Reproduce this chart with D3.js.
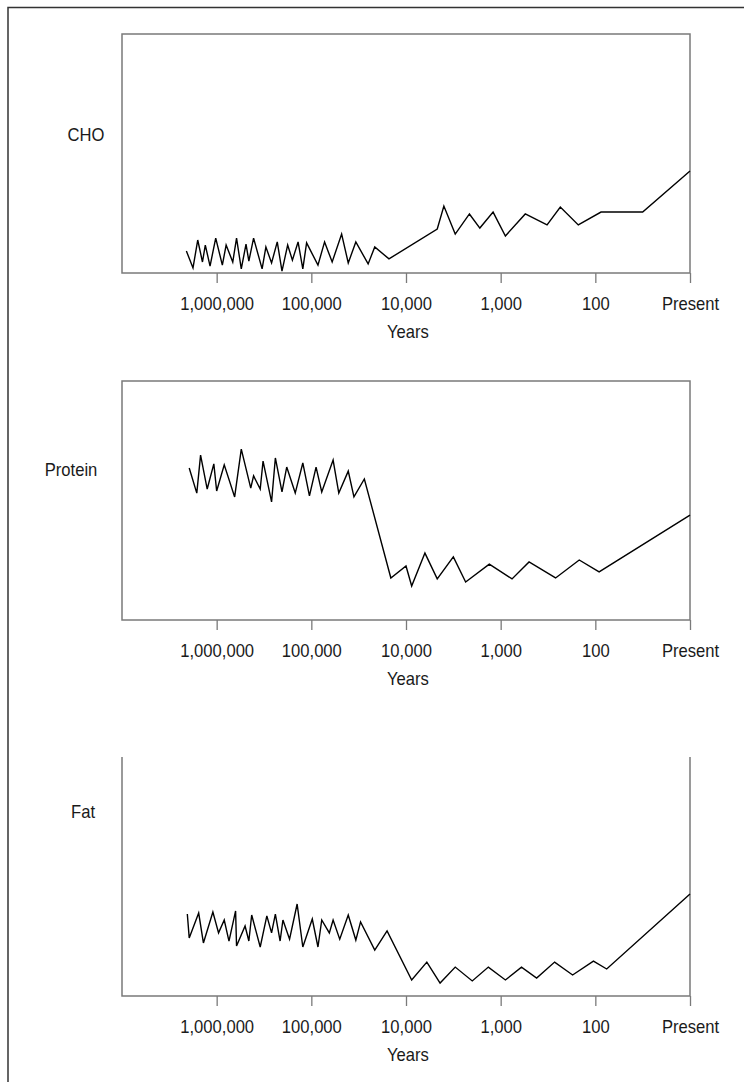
<!DOCTYPE html>
<html>
<head>
<meta charset="utf-8">
<script src="https://cdn.jsdelivr.net/npm/d3@7"></script>
<style>
  html, body { margin: 0; padding: 0; background: #fff; }
  svg text { font-family: 'Liberation Sans', Arial, sans-serif; fill: #1a1a1a; }
</style>
</head>
<body>
<svg id="chart" width="744" height="1082"></svg>
<script>
// x values are log10(years ago); 1 stands for "Present"
const tickLogs = [6, 5, 4, 3, 2, 1]
const tickLabels = ['1,000,000', '100,000', '10,000', '1,000', '100', 'Present']

// relative intake level, 0-100 of panel height
const choX = [6.32, 6.25, 6.20, 6.15, 6.12, 6.07, 6.01, 5.94, 5.90, 5.83, 5.79, 5.74, 5.69, 5.66, 5.61, 5.52,
  5.48, 5.42, 5.36, 5.31, 5.25, 5.20, 5.14, 5.09, 5.05, 4.93, 4.86, 4.78, 4.68, 4.61, 4.53, 4.40, 4.33, 4.18,
  3.67, 3.60, 3.48, 3.33, 3.22, 3.08, 2.95, 2.74, 2.51, 2.37, 2.18, 1.94, 1.50, 1.00]
const choY = [9.2, 2.1, 13.8, 4.6, 11.7, 2.9, 14.6, 3.3, 11.7, 4.6, 14.6, 1.7, 12.1, 5.0, 14.6, 1.7,
  10.9, 4.2, 13.0, 0.8, 11.7, 5.4, 13.0, 1.7, 12.6, 3.3, 13.0, 4.6, 16.3, 4.2, 13.0, 3.8, 10.9, 5.9,
  18.4, 28.0, 16.3, 24.7, 18.8, 25.5, 15.5, 24.7, 20.1, 27.6, 20.1, 25.5, 25.5, 42.7]

const proteinX = [6.29, 6.21, 6.17, 6.10, 6.03, 6.00, 5.92, 5.81, 5.74, 5.64, 5.61, 5.54, 5.51, 5.42, 5.38,
  5.31, 5.26, 5.17, 5.09, 5.02, 4.95, 4.89, 4.77, 4.71, 4.61, 4.55, 4.44, 4.16, 4.00, 3.94, 3.80, 3.67,
  3.50, 3.37, 3.12, 2.88, 2.70, 2.42, 2.17, 1.96, 1.00]
const proteinY = [63.6, 53.1, 69.0, 54.8, 65.3, 54.0, 64.9, 51.5, 71.5, 55.2, 60.3, 54.8, 66.5, 49.4, 67.8,
  53.6, 64.0, 53.1, 65.7, 51.9, 64.0, 53.6, 66.9, 53.1, 62.3, 51.5, 59.0, 17.6, 22.6, 14.2, 28.0, 17.2,
  26.4, 15.9, 23.4, 17.2, 24.3, 17.6, 25.1, 20.1, 43.9]

const fatX = [6.31, 6.29, 6.19, 6.14, 6.04, 5.98, 5.92, 5.87, 5.80, 5.79, 5.70, 5.66, 5.63, 5.54, 5.47, 5.42,
  5.38, 5.33, 5.30, 5.23, 5.15, 5.09, 4.99, 4.93, 4.89, 4.81, 4.77, 4.70, 4.61, 4.53, 4.48, 4.33, 4.20,
  3.94, 3.78, 3.64, 3.48, 3.30, 3.13, 2.95, 2.78, 2.62, 2.43, 2.24, 2.02, 1.88, 1.00]
const fatY = [34.3, 24.3, 34.7, 22.2, 35.1, 26.4, 31.8, 23.0, 35.6, 20.9, 29.3, 23.0, 33.9, 20.5, 33.5, 26.4,
  34.3, 23.0, 31.8, 23.8, 38.5, 20.5, 32.2, 20.5, 31.8, 26.4, 31.8, 23.8, 33.9, 23.4, 31.0, 19.2, 27.2,
  6.7, 14.2, 5.4, 12.1, 6.3, 12.1, 6.7, 12.1, 7.5, 14.2, 8.8, 14.6, 11.3, 42.7]

const panels = [
  { name: 'CHO', xs: choX, ys: choY, top: 34, labelX: 86, labelY: 141, boxed: true },
  { name: 'Protein', xs: proteinX, ys: proteinY, top: 381, labelX: 71, labelY: 476, boxed: true },
  { name: 'Fat', xs: fatX, ys: fatY, top: 757, labelX: 83, labelY: 818, boxed: false },
]

const svg = d3.select('#chart')
const left = 122, right = 690, h = 239
const fontSize = 17.5
const narrow = 0.95
const x = d3.scaleLinear().domain([7, 1]).range([left, right])
const frameColor = '#7a7a7a'

// outer frame, runs off the right and bottom of the page
svg.append('rect')
  .attr('x', 8).attr('y', 7.5).attr('width', 900).attr('height', 1200)
  .attr('fill', 'none').attr('stroke', '#333').attr('stroke-width', 1.5)

const label = (g, tx, ty, str) => g.append('text')
  .attr('transform', `translate(${tx},${ty}) scale(${narrow},1)`)
  .attr('text-anchor', 'middle').attr('font-size', fontSize)
  .text(str)

panels.forEach((p) => {
  const bottom = p.top + h
  const y = d3.scaleLinear().domain([0, 100]).range([bottom, p.top])
  const g = svg.append('g')

  if (p.boxed) {
    g.append('rect')
      .attr('x', left).attr('y', p.top).attr('width', right - left).attr('height', h)
      .attr('fill', 'none').attr('stroke', frameColor).attr('stroke-width', 1.5)
  } else {
    g.append('path')
      .attr('d', `M${left},${p.top}V${bottom}H${right}V${p.top}`)
      .attr('fill', 'none').attr('stroke', frameColor).attr('stroke-width', 1.5)
  }

  const axis = d3.axisBottom(x)
    .tickValues(tickLogs)
    .tickFormat((d, i) => tickLabels[i])
    .tickSize(10)
    .tickPadding(15)
  const ga = g.append('g').attr('transform', `translate(0,${bottom})`).call(axis)
  ga.select('.domain').remove()
  ga.selectAll('line').attr('stroke', frameColor).attr('stroke-width', 1.3)
  ga.selectAll('text').attr('font-size', fontSize).attr('fill', '#1a1a1a')
    .attr('transform', `scale(${narrow},1)`)
    .style('font-family', "'Liberation Sans', Arial, sans-serif")

  label(g, 408, bottom + 65, 'Years')
  label(g, p.labelX, p.labelY, p.name)

  const line = d3.line().x((d) => x(d[0])).y((d) => y(d[1]))
  g.append('path')
    .datum(d3.zip(p.xs, p.ys))
    .attr('d', line)
    .attr('fill', 'none').attr('stroke', '#000').attr('stroke-width', 1.4)
    .attr('stroke-linejoin', 'miter')
})
</script>
</body>
</html>
